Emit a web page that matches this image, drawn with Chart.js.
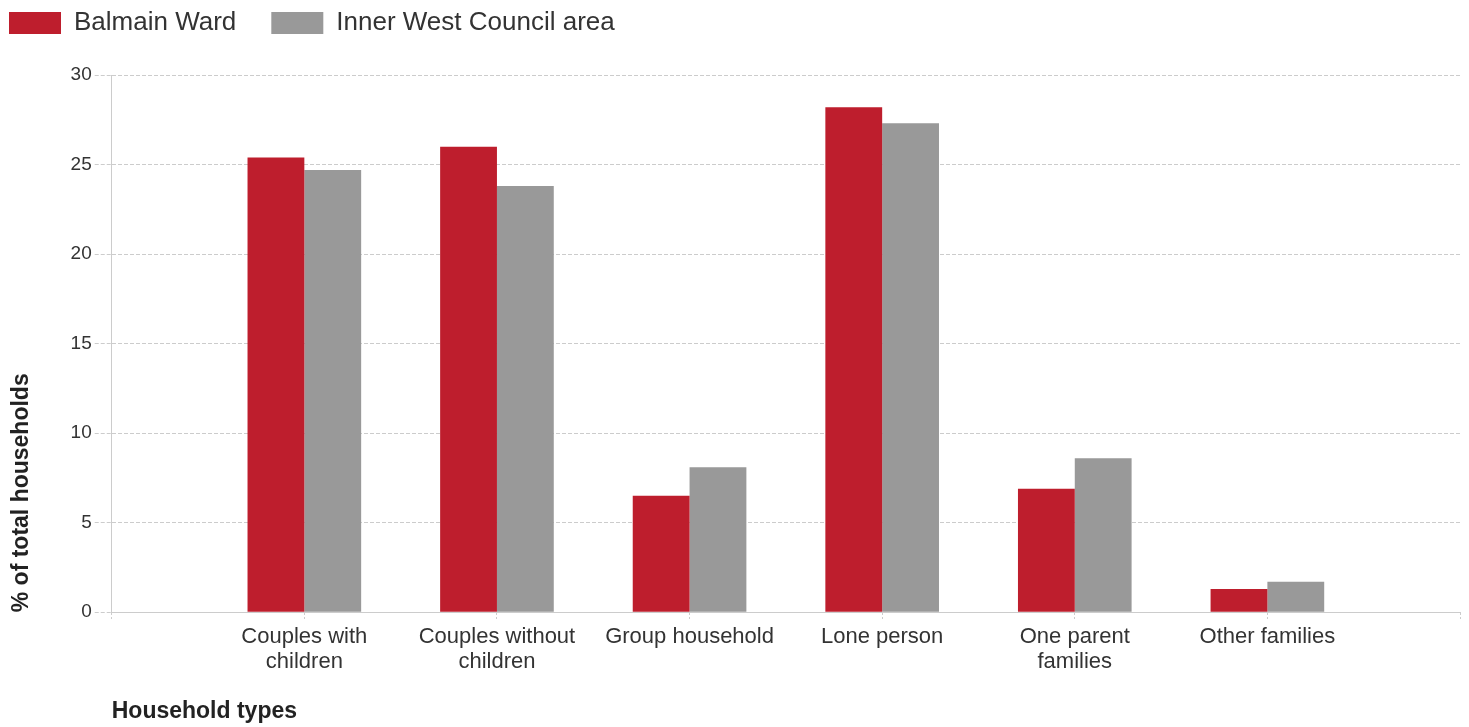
<!DOCTYPE html>
<html>
<head>
<meta charset="utf-8">
<script src="https://cdn.jsdelivr.net/npm/chart.js@4.4.0/dist/chart.umd.min.js"></script>
<style>
  html, body { margin: 0; padding: 0; background: #fff; }
  .canvas { width: 1469px; height: 727px; }
</style>
</head>
<body>
<div class="canvas">
  <canvas id="householdChart"></canvas>
</div>
<script>
// categories (empty slot at each end, like the original axis)
const categories = [
  '',
  ['Couples with', 'children'],
  ['Couples without', 'children'],
  'Group household',
  'Lone person',
  ['One parent', 'families'],
  'Other families',
  ''
];
const balmainWard = [null, 25.4, 26.0, 6.5, 28.2, 6.9, 1.3, null];
const innerWestCouncil = [null, 24.7, 23.8, 8.1, 27.3, 8.6, 1.7, null];
const yTicks = [0, 5, 10, 15, 20, 25, 30];

const FONT = "'Liberation Sans', Arial, sans-serif";

// legend: a little extra room below it, and drawn up in the top-left corner
const legendTweak = {
  id: 'legendTweak',
  beforeInit(chart) {
    const legend = chart.legend;
    const fit = legend.fit;
    legend.fit = function () {
      fit.call(this);
      this.height += 2;
    };
    const draw = legend.draw;
    legend.draw = function () {
      const c = this.ctx;
      c.save();
      c.translate(-34, -27);
      draw.call(this);
      c.restore();
    };
  }
};

const ctx = document.getElementById('householdChart').getContext('2d');
new Chart(ctx, {
  type: 'bar',
  data: {
    labels: categories,
    datasets: [
      {
        label: 'Balmain Ward',
        data: balmainWard,
        backgroundColor: '#be1e2d',
        barPercentage: 1,
        categoryPercentage: 0.59
      },
      {
        label: 'Inner West Council area',
        data: innerWestCouncil,
        backgroundColor: '#999999',
        barPercentage: 1,
        categoryPercentage: 0.59
      }
    ]
  },
  options: {
    responsive: true,
    maintainAspectRatio: false,
    animation: false,
    layout: {
      padding: { top: 2, left: 8, right: 9, bottom: 2 }
    },
    plugins: {
      tooltip: { enabled: false },
      legend: {
        position: 'top',
        align: 'start',
        labels: {
          boxWidth: 52,
          boxHeight: 22,
          padding: 35,
          color: '#333',
          font: { family: FONT, size: 26 }
        }
      }
    },
    scales: {
      x: {
        offset: false,
        grid: {
          offset: false,
          drawOnChartArea: false,
          tickLength: 8,
          tickColor: '#cccccc',
          tickBorderDash: [2, 2]
        },
        border: { color: '#cccccc', width: 1 },
        ticks: {
          color: '#333',
          padding: 4,
          autoSkip: false,
          maxRotation: 0,
          font: { family: FONT, size: 22, lineHeight: 1.14 }
        },
        title: {
          display: true,
          text: 'Household types',
          align: 'start',
          color: '#222',
          padding: { top: 19, bottom: 0 },
          font: { family: FONT, size: 23, weight: 'bold' }
        }
      },
      y: {
        min: 0,
        max: 30,
        afterBuildTicks: axis => {
          axis.ticks = yTicks.map(v => ({ value: v }));
        },
        grid: {
          color: '#cccccc',
          tickLength: 17,
          tickColor: '#cccccc',
          tickBorderDash: [4, 2]
        },
        // in v4 border.dash is what dashes the grid lines
        border: { color: '#cccccc', width: 1, dash: [4, 2] },
        ticks: {
          color: '#333',
          padding: 3,
          font: { family: FONT, size: 19 }
        },
        title: {
          display: true,
          text: '% of total households',
          align: 'start',
          color: '#222',
          padding: { top: 0, bottom: 32 },
          font: { family: FONT, size: 23, weight: 'bold' }
        }
      }
    }
  },
  plugins: [legendTweak]
});
</script>
</body>
</html>
